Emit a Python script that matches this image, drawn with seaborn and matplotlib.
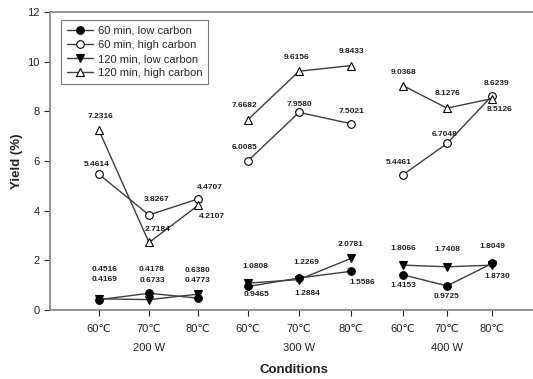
import matplotlib
matplotlib.use("Agg")
import matplotlib.pyplot as plt
from matplotlib.lines import Line2D
import seaborn as sns
import pandas as pd

# ---------------- data ----------------
powers = ["200 W", "300 W", "400 W"]
temps = ["60℃", "70℃", "80℃"]
series_names = ["60 min, low carbon", "60 min, high carbon",
                "120 min, low carbon", "120 min, high carbon"]
y_60_low = [0.4169, 0.6733, 0.4773, 0.9465, 1.2884, 1.5586, 1.4153, 0.9725, 1.8730]
y_60_high = [5.4614, 3.8267, 4.4707, 6.0085, 7.9580, 7.5021, 5.4461, 6.7048, 8.6239]
y_120_low = [0.4516, 0.4178, 0.6380, 1.0808, 1.2269, 2.0781, 1.8066, 1.7408, 1.8049]
y_120_high = [7.2316, 2.7184, 4.2107, 7.6682, 9.6156, 9.8433, 9.0368, 8.1276, 8.5126]
y_ticks = [0, 2, 4, 6, 8, 10, 12]

# ---------------- layout / style ----------------
cat_pos = [1.0, 2.0, 2.98, 3.98, 5.0, 6.04, 7.08, 7.96, 8.86]
styles = {
    "60 min, low carbon": dict(marker="o", mfc="black", ms=5.5),
    "60 min, high carbon": dict(marker="o", mfc="white", ms=5.5),
    "120 min, low carbon": dict(marker="v", mfc="black", ms=5.5),
    "120 min, high carbon": dict(marker="^", mfc="white", ms=5.5),
}
# label offsets in pixels (dx, dy up)
offsets = {
    "60 min, low carbon": [(6, 20), (3, 13), (0, 18), (9, -8), (8, -15), (11, -11),
                           (0, -11), (0, -11), (5, -13)],
    "60 min, high carbon": [(-2, 10), (8, 15), (12, 11), (-3, 13), (0, 8), (1, 12),
                            (-4, 12), (-2, 9), (5, 12)],
    "120 min, low carbon": [(6, 29), (3, 30), (0, 24), (7, 17), (7, 17), (0, 14),
                            (0, 17), (0, 17), (0, 19)],
    "120 min, high carbon": [(1, 14), (9, 13), (14, -11), (-4, 14), (-2, 14), (1, 14),
                             (1, 13), (1, 15), (8, -11)],
}

sns.set_style("ticks")
plt.rcParams["font.family"] = ["Liberation Sans", "DejaVu Sans"]

series_vals = {
    series_names[0]: y_60_low,
    series_names[1]: y_60_high,
    series_names[2]: y_120_low,
    series_names[3]: y_120_high,
}
rows = []
for s, vals in series_vals.items():
    for i, v in enumerate(vals):
        rows.append(dict(series=s, power=powers[i // 3], temp=temps[i % 3],
                         pos=cat_pos[i], yld=v))
df = pd.DataFrame(rows)

fig = plt.figure(figsize=(5.33, 3.79), dpi=100)
ax = fig.add_axes([50 / 533, 69 / 379, 483 / 533, 298 / 379])

line_col = "#3e3e3e"
for s in series_names:
    sub = df[df.series == s]
    st = styles[s]
    sns.lineplot(data=sub, x="pos", y="yld", units="power", estimator=None,
                 ax=ax, color=line_col, linewidth=1.0, marker=st["marker"],
                 markerfacecolor=st["mfc"], markeredgecolor="black",
                 markeredgewidth=0.8, markersize=st["ms"], legend=False)
    for (p, v), (dx, dy) in zip(zip(sub.pos, sub.yld), offsets[s]):
        ax.annotate(f"{v:.4f}", xy=(p, v), xytext=(dx, dy),
                    textcoords="offset pixels", ha="center", va="center",
                    fontsize=6, fontweight="bold", color="#222222")

ax.set_xlim(0.02, 9.68)
ax.set_ylim(0, 12)
ax.set_yticks(y_ticks)
ax.set_xticks(cat_pos)
ax.set_xticklabels(temps * 3)
ax.tick_params(axis="both", labelsize=8, colors="#222222", length=4,
               width=0.8, direction="out")
ax.tick_params(axis="x", pad=6)
ax.set_xlabel("")
ax.set_ylabel("")
fig.text(17 / 533, 1 - 161 / 379, "Yield (%)", rotation=90, ha="center",
         va="center", fontsize=9.5, fontweight="bold", color="#222222")

for sp in ["left", "bottom", "top"]:
    ax.spines[sp].set_visible(True)
    ax.spines[sp].set_color("#8a8a8a")
    ax.spines[sp].set_linewidth(1.3)
ax.spines["right"].set_visible(False)

for k, pw in enumerate(powers):
    ax.annotate(pw, xy=(cat_pos[3 * k + 1], 0), xycoords=("data", "axes fraction"),
                xytext=(0, -38), textcoords="offset pixels", ha="center",
                va="center", fontsize=8, color="#222222")

fig.text(294 / 533, 1 - 370 / 379, "Conditions", ha="center", va="center",
         fontsize=9.5, fontweight="bold", color="#222222")

handles = []
for s in series_names:
    st = styles[s]
    handles.append(Line2D([], [], color=line_col, linewidth=1.0, marker=st["marker"],
                          markerfacecolor=st["mfc"], markeredgecolor="black",
                          markeredgewidth=0.8, markersize=st["ms"]))
leg = ax.legend(handles, series_names, loc="upper left",
                bbox_to_anchor=(61 / 533, 1 - 20 / 379),
                bbox_transform=fig.transFigure, borderaxespad=0,
                fontsize=8, frameon=True, fancybox=False, handlelength=2.4,
                handletextpad=0.4, labelspacing=0.38, borderpad=0.5)
leg.get_frame().set_edgecolor("#555555")
leg.get_frame().set_linewidth(0.8)

fig.savefig("out.png", dpi=100)
